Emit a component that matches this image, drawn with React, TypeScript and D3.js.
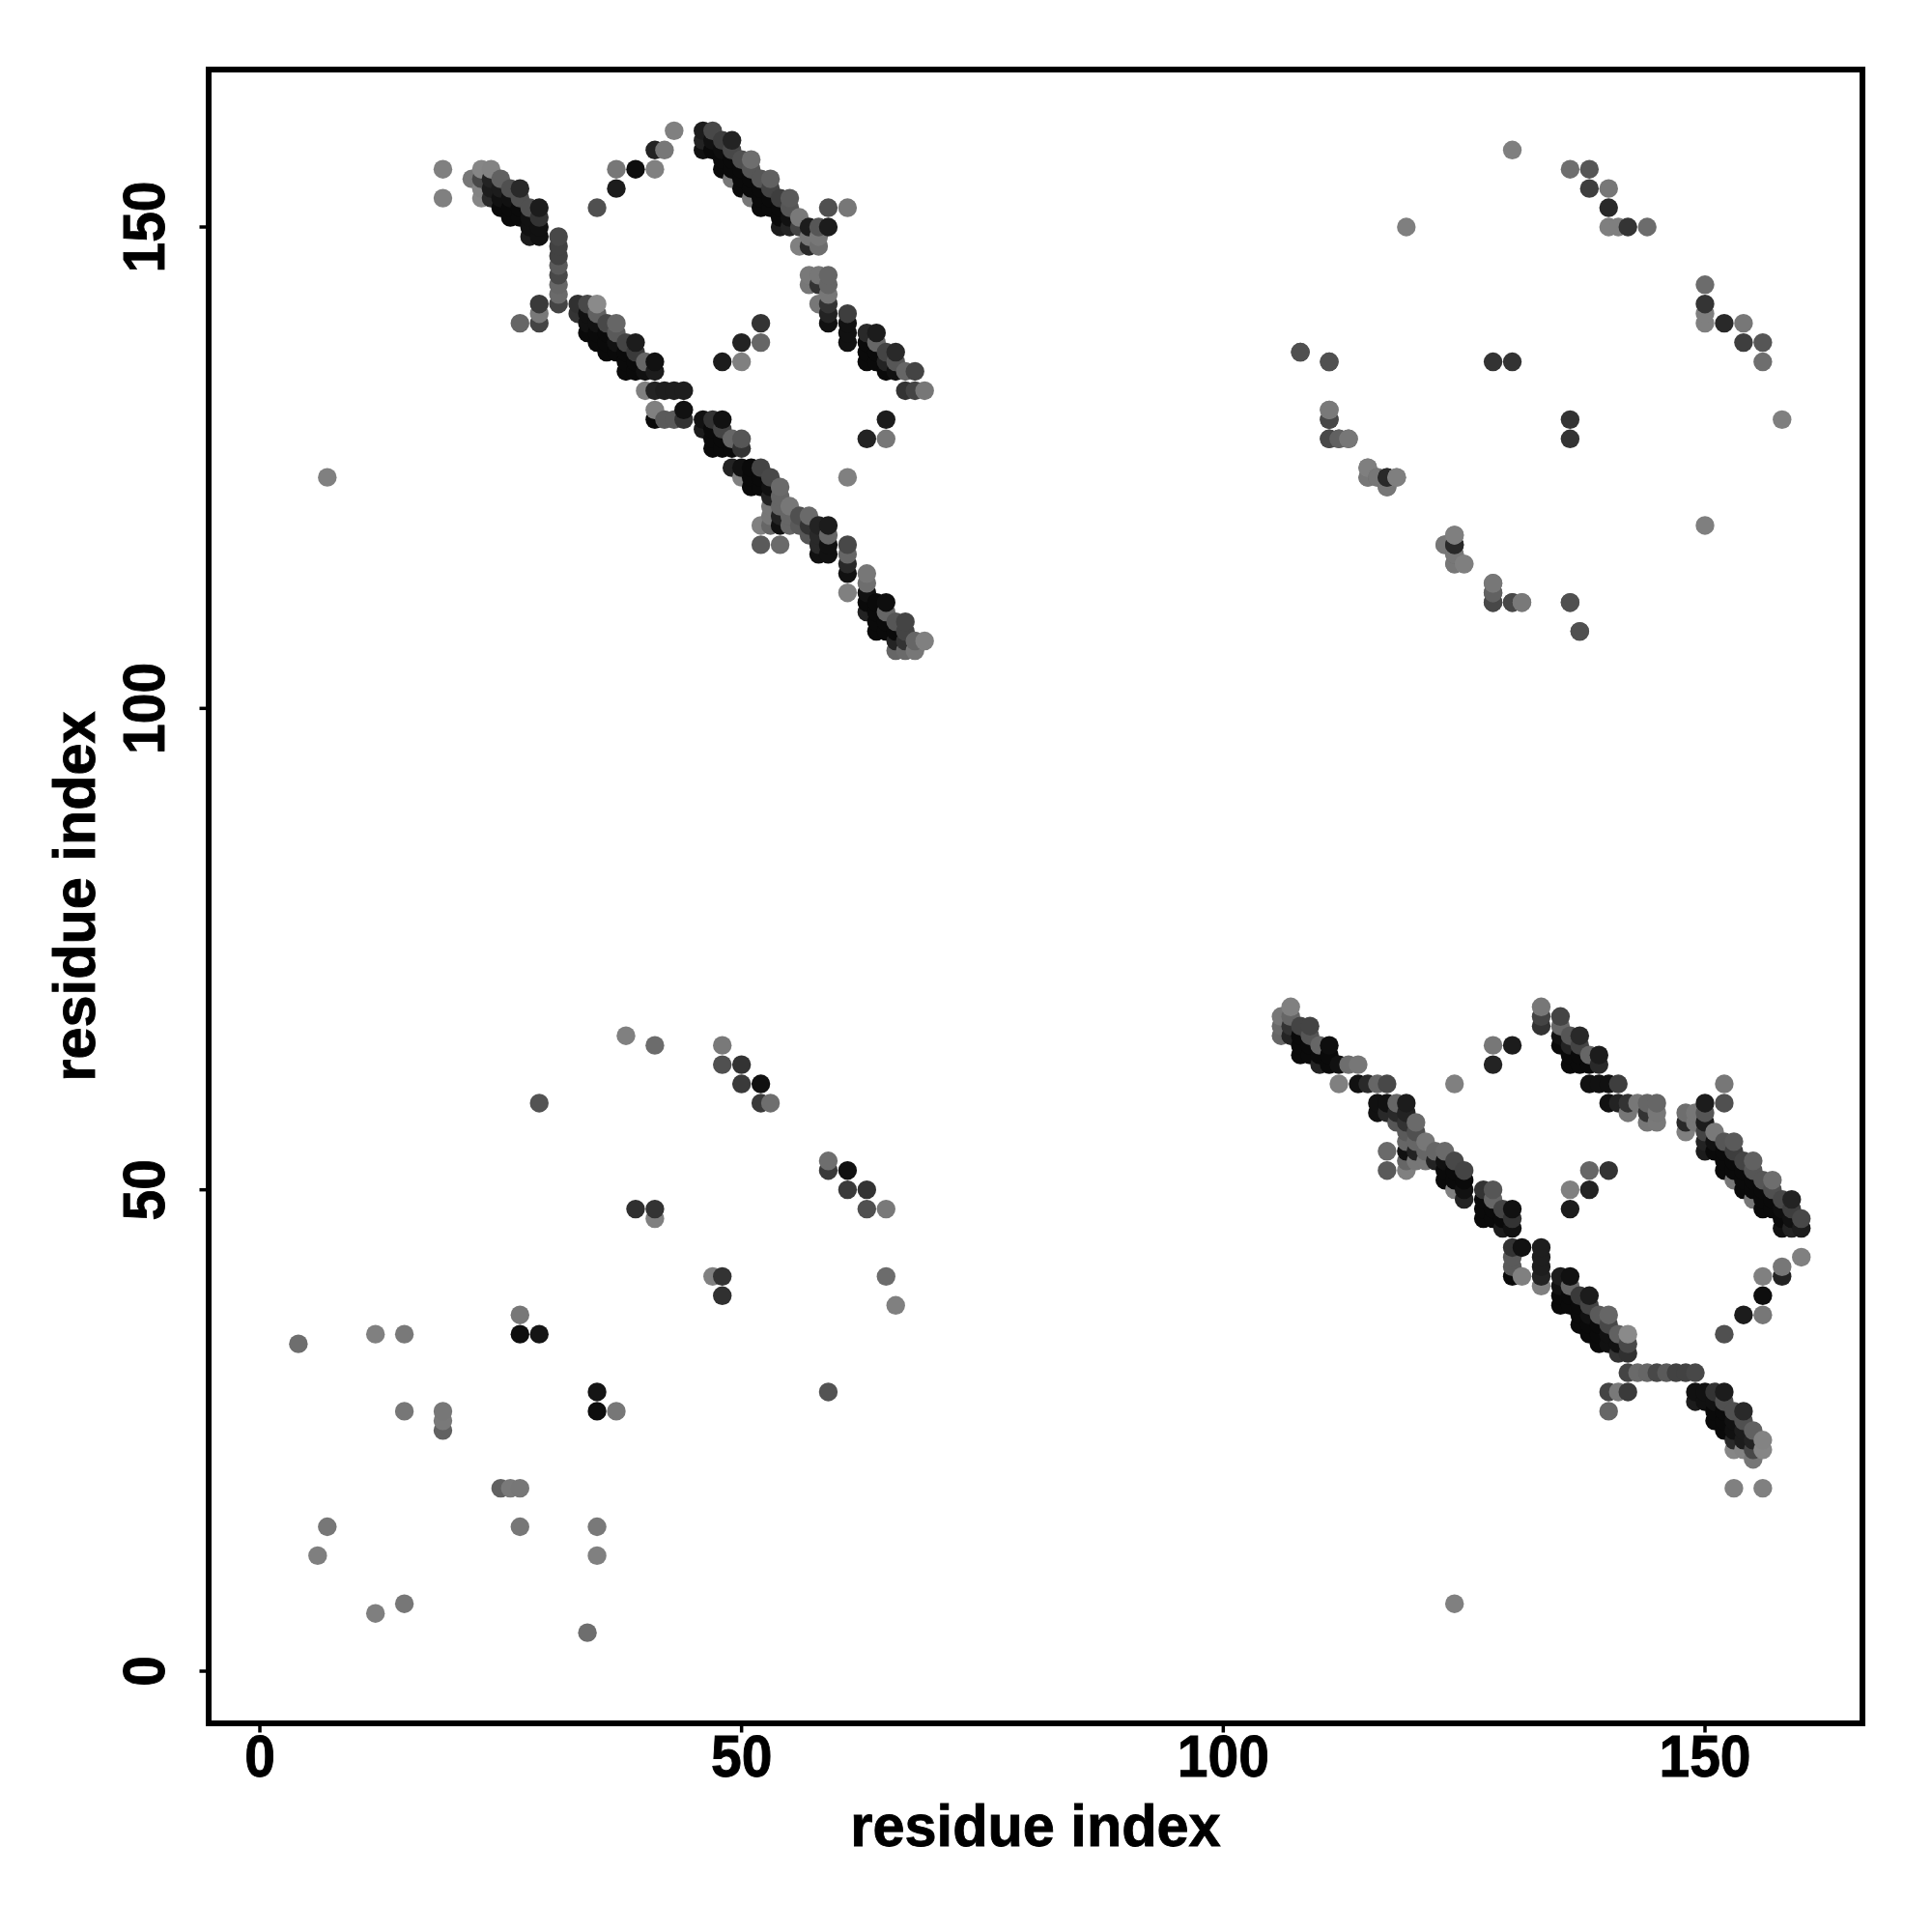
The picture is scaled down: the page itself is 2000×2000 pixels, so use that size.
import React from "react";
import * as d3 from "d3";

// Each contact: [residue i, residue j, strength 0-100]. The map is symmetric, so only i < j is listed.
type Contact = [number, number, number];

const tickValues = [0, 50, 100, 150];
const axisTitle = "residue index";

const sparseLow: Contact[] = [
  [4,34,20],[6,12,8],[7,15,14],[12,35,7],[15,35,12],[15,27,14],[19,27,14],[19,26,12],[19,25,30],
  [27,37,14],[27,35,90],[29,35,85],[29,59,40],[38,66,7],[41,65,22],[48,65,12],[48,63,42],[50,63,63],
  [50,61,58],[52,61,88],[52,59,58],[53,59,20],[39,48,65],[41,48,63],[41,47,7],
];

const sparseHigh: Contact[] = [
  [130,158,8],[119,150,8],[136,156,20],[138,156,38],[138,154,55],[140,154,14],[140,152,70],[140,150,8],
  [141,150,8],[142,150,62],[144,150,22],[108,137,38],[111,136,38],[128,136,63],[130,136,63],[111,131,8],
  [111,130,48],[111,128,48],[112,128,35],[113,128,20],[115,125,8],[115,124,20],[116,124,23],[117,124,70],
  [118,124,8],[117,123,26],[123,117,14],[124,118,8],[124,117,70],[124,116,14],[124,115,14],[125,115,8],
  [128,113,14],[128,112,30],[128,111,48],[130,111,48],[131,111,12],[136,111,42],[137,108,42],
];

const sparseCross: Contact[] = [
  [7,124,7],[19,153,7],[19,156,7],[27,140,26],[29,142,58],[29,141,12],[29,140,51],[35,152,42],[37,154,80],
  [37,156,14],[39,156,90],[41,156,7],[41,158,75],[42,158,14],[43,160,7],[48,136,80],[50,136,7],[50,138,75],
  [52,138,26],[52,140,63],[59,152,42],[61,152,14],[61,124,7],[63,128,75],[65,128,14],[65,130,80],
  [61,117,48],[61,116,26],[61,115,70],[61,114,88],[61,112,7],
];

const strandA: Contact[] = [
  [22,155,14],[23,156,3],[23,155,48],[23,154,5],[23,153,3],[24,156,5],[24,155,75],[24,154,80],[24,153,70],
  [25,155,30],[25,154,80],[25,153,88],[25,152,93],[26,154,42],[26,153,88],[26,152,93],[26,151,93],
  [27,154,70],[27,153,42],[27,152,93],[27,151,93],[28,152,42],[28,151,88],[28,150,88],[28,149,80],
  [29,152,80],[29,151,63],[29,150,88],[29,149,88],
];

const strandLink: Contact[] = [
  [31,149,48],[31,148,52],[31,147,52],[31,146,35],[31,145,48],[31,144,26],[31,143,23],[31,142,51],
];

const strandB: Contact[] = [
  [33,142,65],[33,141,62],[34,142,48],[34,141,88],[34,140,88],[34,139,93],[35,142,0],[35,141,30],[35,140,88],
  [35,139,93],[35,138,93],[36,140,48],[36,139,93],[36,138,93],[36,137,93],[37,140,26],[37,139,35],[37,138,88],
  [37,137,93],[38,138,51],[38,137,93],[38,136,93],[38,135,93],[39,138,80],[39,137,58],[39,136,93],[39,135,93],
  [40,136,26],[40,135,88],[41,136,88],[41,135,80],[40,133,7],[41,133,75],[42,133,78],[43,133,78],[44,133,78],
  [41,131,7],[44,131,88],[41,130,93],[42,130,35],[43,130,35],[44,130,63],
];

const strandC: Contact[] = [
  [46,130,88],[47,130,63],[48,130,88],[46,129,80],[47,129,93],[48,129,51],[47,128,93],[48,128,93],[49,128,26],
  [50,128,38],[47,127,93],[48,127,93],[49,127,93],[50,127,63],[49,125,75],[50,125,88],[51,125,93],[52,125,51],
  [50,124,7],[51,124,93],[52,124,93],[53,124,48],[51,123,93],[52,123,93],[53,123,88],[54,123,23],[53,122,75],
  [54,122,26],[53,121,14],[54,121,26],[55,121,14],[53,120,14],[54,120,75],[55,120,26],[56,120,42],[57,120,23],
  [52,119,7],[53,119,26],[54,119,88],[55,119,26],[56,119,35],[57,119,63],[58,119,75],[59,119,80],[57,118,38],
  [58,118,70],[59,118,26],[58,117,70],[59,117,88],[58,116,88],[59,116,88],[52,117,35],[54,117,23],
];

const strandD: Contact[] = [
  [63,114,14],[63,113,20],[63,112,88],[63,111,93],[63,110,75],[64,111,93],[64,110,93],[64,109,93],[64,108,93],
  [65,111,90],[65,110,26],[65,109,93],[65,108,93],[66,109,38],[66,108,93],[66,107,75],[66,106,26],[67,109,51],
  [67,108,51],[67,107,63],[67,106,23],[68,107,26],[68,106,14],[69,107,7],
];

const strandE: Contact[] = [
  [46,160,80],[47,160,48],[46,159,75],[46,158,88],[47,159,88],[47,158,93],[48,159,55],[49,159,75],[48,158,90],
  [49,158,48],[50,157,42],[51,157,20],[48,157,93],[49,157,93],[48,156,93],[49,156,93],[50,156,93],[51,156,38],
  [52,155,38],[53,155,30],[49,155,14],[50,155,93],[51,155,93],[50,154,93],[51,154,93],[52,154,93],[53,154,51],
  [51,153,14],[52,153,93],[53,153,93],[54,153,55],[55,153,35],[52,152,93],[53,152,93],[54,152,93],[55,152,38],
  [56,151,12],[54,151,93],[55,151,88],[54,150,80],[55,150,75],[56,150,51],[57,150,80],[58,150,38],[59,150,80],
  [56,148,7],[57,149,14],[57,148,70],[58,149,14],[58,148,20],
];

const strandF: Contact[] = [
  [57,145,12],[58,145,14],[59,145,26],[57,144,14],[58,144,63],[59,144,26],[59,143,14],[58,142,14],[59,142,63],
  [59,141,75],[59,140,88],[61,141,55],[61,140,88],[61,139,88],[61,138,88],[63,139,70],[64,139,80],[64,138,26],
  [63,138,93],[63,137,93],[63,136,93],[64,137,93],[65,137,51],[66,137,70],[64,136,93],[65,136,75],[66,136,38],
  [65,135,93],[66,135,88],[67,135,26],[68,135,51],[67,133,63],[68,133,51],[69,133,14],
];

const upperTriangle: Contact[] = [
  ...sparseLow, ...sparseHigh, ...sparseCross, ...strandA, ...strandLink, ...strandB,
  ...strandC, ...strandD, ...strandE, ...strandF,
];

const WIDTH = 2000;
const HEIGHT = 2000;
const FRAME = { left: 216, right: 1928, top: 72, bottom: 1784 };
const FONT = "'Liberation Sans', Arial, Helvetica, sans-serif";

export default function App() {
  const x = d3.scaleLinear().domain([0, 150]).range([269, 1765]);
  const y = d3.scaleLinear().domain([0, 150]).range([1730, 235]);
  const shade = d3.scaleLinear<number>().domain([0, 100]).range([138, 0]);

  const points = upperTriangle.flatMap(([i, j, s]) => [
    { px: i, py: j, s },
    { px: j, py: i, s },
  ]);
  const ordered = points
    .slice()
    .sort((a, b) => d3.ascending(a.px, b.px) || d3.ascending(a.py, b.py));

  const midX = 1072;
  const midY = 928;

  return (
    <svg
      width={WIDTH}
      height={HEIGHT}
      viewBox={`0 0 ${WIDTH} ${HEIGHT}`}
      style={{ position: "absolute", left: 0, top: 0, background: "#fff" }}
      fontFamily={FONT}
      fontWeight="bold"
    >
      <g>
        {ordered.map((d, k) => {
          const g = Math.round(shade(d.s));
          return <circle key={k} cx={x(d.px)} cy={y(d.py)} r={9.7} fill={`rgb(${g},${g},${g})`} />;
        })}
      </g>
      <rect
        x={FRAME.left}
        y={FRAME.top}
        width={FRAME.right - FRAME.left}
        height={FRAME.bottom - FRAME.top}
        fill="none"
        stroke="#000"
        strokeWidth={6}
      />
      <g stroke="#000" strokeWidth={0.9}>
        {tickValues.map((t) => (
          <g key={`x${t}`}>
            <line x1={x(t)} x2={x(t)} y1={FRAME.bottom} y2={FRAME.bottom + 9.5} strokeWidth={3.5} />
            <text transform={`translate(${x(t)},1839) scale(0.935,1)`} textAnchor="middle" fontSize={61}>{t}</text>
          </g>
        ))}
        {tickValues.map((t) => (
          <g key={`y${t}`}>
            <line x1={FRAME.left} x2={FRAME.left - 9.5} y1={y(t)} y2={y(t)} strokeWidth={3.5} />
            <text transform={`translate(170,${y(t)}) rotate(-90) scale(0.935,1)`} textAnchor="middle" fontSize={61}>{t}</text>
          </g>
        ))}
        <text transform={`translate(${midX},1911) scale(0.975,1)`} textAnchor="middle" fontSize={61}>{axisTitle}</text>
        <text transform={`translate(98,${midY}) rotate(-90) scale(0.975,1)`} textAnchor="middle" fontSize={61}>{axisTitle}</text>
      </g>
    </svg>
  );
}
